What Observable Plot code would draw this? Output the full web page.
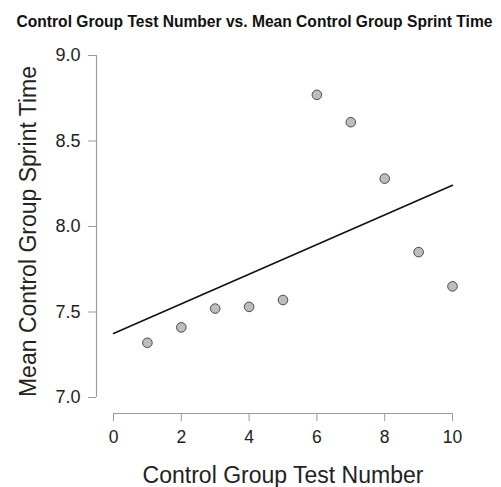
<!DOCTYPE html>
<html>
<head>
<meta charset="utf-8">
<script src="https://cdn.jsdelivr.net/npm/d3@7"></script>
<script src="https://cdn.jsdelivr.net/npm/@observablehq/plot@0.6"></script>
<style>
  html, body { margin: 0; padding: 0; background: #fff; }
  svg { display: block; }
</style>
</head>
<body>
<div id="chart"></div>
<script>
const testNumbers = [1, 2, 3, 4, 5, 6, 7, 8, 9, 10];
const sprintTimes = [7.32, 7.41, 7.52, 7.53, 7.57, 8.77, 8.61, 8.28, 7.85, 7.65];
const xTicks = [0, 2, 4, 6, 8, 10];
const yTicks = [7.0, 7.5, 8.0, 8.5, 9.0];
const titleText = "Control Group Test Number vs. Mean Control Group Sprint Time";
const xLabel = "Control Group Test Number";
const yLabel = "Mean Control Group Sprint Time";

const data = testNumbers.map((x, i) => ({x, y: sprintTimes[i]}));

// least-squares fit
const mx = d3.mean(testNumbers), my = d3.mean(sprintTimes);
const slope = d3.sum(data, d => (d.x - mx) * (d.y - my)) / d3.sum(data, d => (d.x - mx) ** 2);
const intercept = my - slope * mx;
const fit = [0, 10].map(x => ({x, y: intercept + slope * x}));

const font = "'Liberation Sans', Arial, Helvetica, sans-serif";

const chart = Plot.plot({
  width: 501,
  height: 487,
  marginLeft: 96,
  marginRight: 49,
  marginTop: 55,
  marginBottom: 74,
  style: {fontFamily: font, background: "#fff", color: "#222"},
  x: {domain: [0, 10], insetLeft: 17},
  y: {domain: [7, 9], insetBottom: 16},
  marks: [
    Plot.ruleX([0], {y1: 7, y2: 9, dx: -17, stroke: "#9a9a9a", strokeWidth: 1.2}),
    Plot.ruleY([7], {x1: 0, x2: 10, dy: 16, stroke: "#9a9a9a", strokeWidth: 1.2}),
    Plot.axisY({ticks: yTicks, tickFormat: d3.format(".1f"), tickSize: 8, tickPadding: 8, stroke: "#9a9a9a", fill: "#222", fontSize: 18, label: null}),
    Plot.axisX({ticks: xTicks, tickSize: 8, tickPadding: 9, stroke: "#9a9a9a", fill: "#222", fontSize: 17.5, label: null}),
    Plot.line(fit, {x: "x", y: "y", stroke: "#111", strokeWidth: 1.6}),
    Plot.dot(data, {x: "x", y: "y", r: 4.8, fill: "#bdbdbd", stroke: "#4a4a4a", strokeWidth: 1}),
    Plot.text([titleText], {frameAnchor: "top", dx: -20, dy: -40, fontSize: 15.6, fontWeight: "bold", fill: "#111"}),
    Plot.text([yLabel], {frameAnchor: "left", textAnchor: "middle", rotate: -90, dx: -68, dy: -3, fontSize: 23, fill: "#222"}),
    Plot.text([xLabel], {frameAnchor: "bottom", dx: 8.5, dy: 69, fontSize: 23, fill: "#222"})
  ]
});
document.getElementById("chart").appendChild(chart);
</script>
</body>
</html>
